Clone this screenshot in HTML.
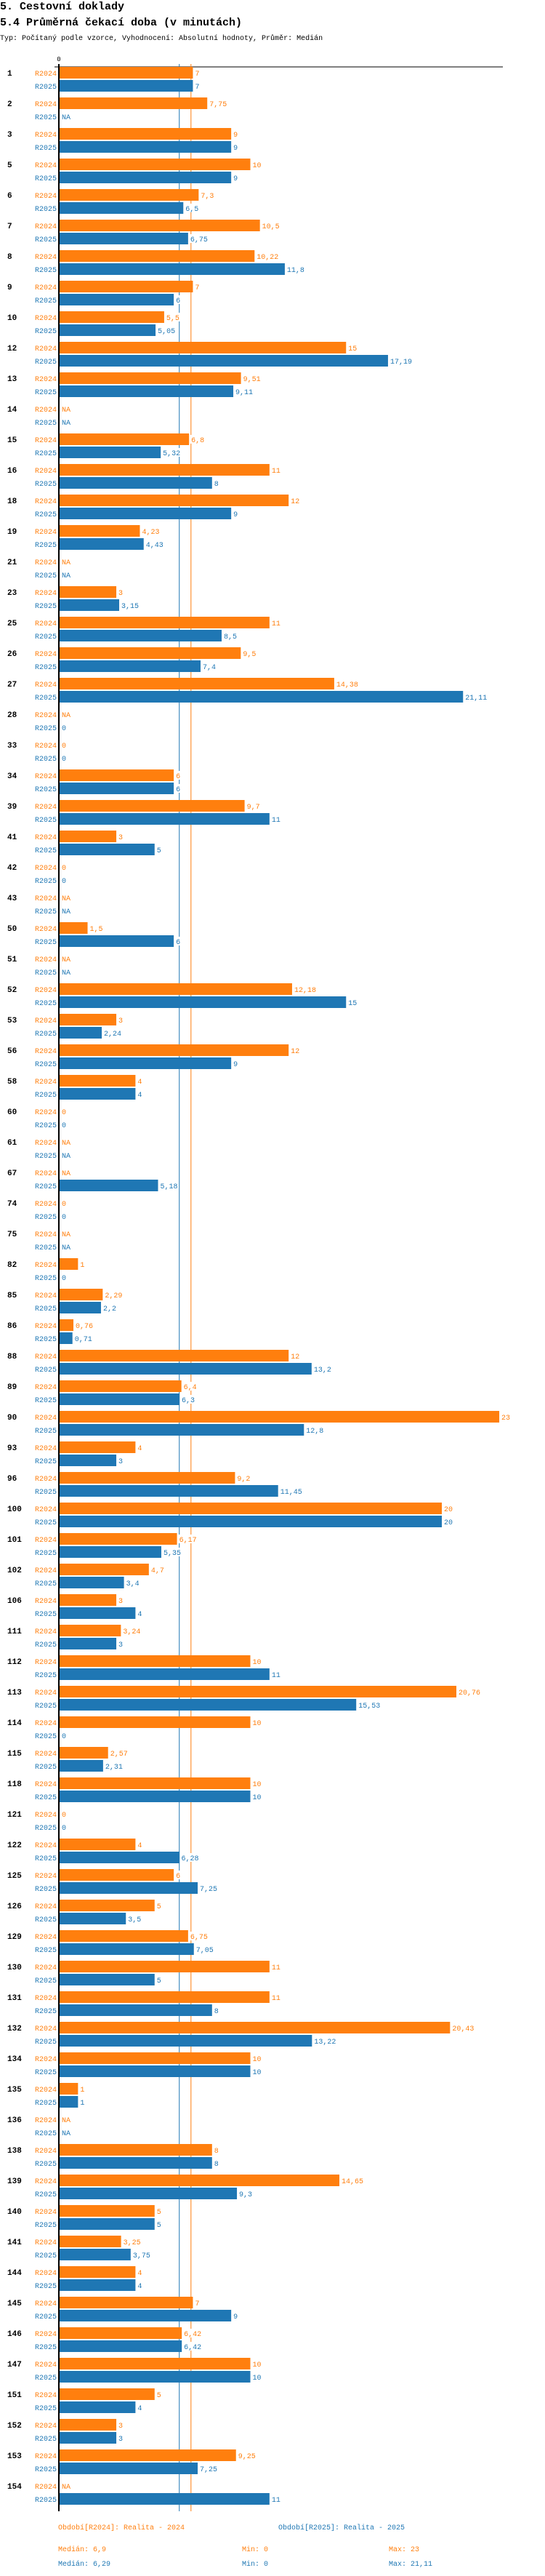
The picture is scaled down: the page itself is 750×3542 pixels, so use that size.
<!DOCTYPE html>
<html><head><meta charset="utf-8">
<style>
html,body{margin:0;padding:0;background:#fff;width:750px;height:3542px;overflow:hidden}
svg{display:block}
text{font-family:"Liberation Mono",monospace}
</style></head>
<body>
<svg id="chart" width="750" height="3542" xmlns="http://www.w3.org/2000/svg">
<text x="0" y="13" font-size="15" font-weight="bold" fill="#000">5. Cestovní doklady</text>
<text x="0" y="35" font-size="15" font-weight="bold" fill="#000">5.4 Průměrná čekací doba (v minutách)</text>
<text x="0" y="55" font-size="10" fill="#000">Typ: Počítaný podle vzorce, Vyhodnocení: Absolutní hodnoty, Průměr: Medián</text>
<g id="plot"></g>
<g font-size="10">
<text x="80" y="3478" fill="#ff7f0e">Období[R2024]: Realita - 2024</text>
<text x="383" y="3478" fill="#1f77b4">Období[R2025]: Realita - 2025</text>
<text x="80" y="3508" fill="#ff7f0e">Medián: 6,9</text>
<text x="333" y="3508" fill="#ff7f0e">Min: 0</text>
<text x="535" y="3508" fill="#ff7f0e">Max: 23</text>
<text x="80" y="3528" fill="#1f77b4">Medián: 6,29</text>
<text x="333" y="3528" fill="#1f77b4">Min: 0</text>
<text x="535" y="3528" fill="#1f77b4">Max: 21,11</text>
</g>
</svg>
<script>
const categories=[1,2,3,5,6,7,8,9,10,12,13,14,15,16,18,19,21,23,25,26,27,28,33,34,39,41,42,43,50,51,52,53,56,58,60,61,67,74,75,82,85,86,88,89,90,93,96,100,101,102,106,111,112,113,114,115,118,121,122,125,126,129,130,131,132,134,135,136,138,139,140,141,144,145,146,147,151,152,153,154];
const values2024=[7,7.75,9,10,7.3,10.5,10.22,7,5.5,15,9.51,null,6.8,11,12,4.23,null,3,11,9.5,14.38,null,0,6,9.7,3,0,null,1.5,null,12.18,3,12,4,0,null,null,0,null,1,2.29,0.76,12,6.4,23,4,9.2,20,6.17,4.7,3,3.24,10,20.76,10,2.57,10,0,4,6,5,6.75,11,11,20.43,10,1,null,8,14.65,5,3.25,4,7,6.42,10,5,3,9.25,null];
const values2025=[7,null,9,9,6.5,6.75,11.8,6,5.05,17.19,9.11,null,5.32,8,9,4.43,null,3.15,8.5,7.4,21.11,0,0,6,11,5,0,null,6,null,15,2.24,9,4,0,null,5.18,0,null,0,2.2,0.71,13.2,6.3,12.8,3,11.45,20,5.35,3.4,4,3,11,15.53,0,2.31,10,0,6.28,7.25,3.5,7.05,5,8,13.22,10,1,null,8,9.3,5,3.75,4,9,6.42,10,4,3,7.25,11];
const medians=[6.9,6.29];
const ORANGE="#ff7f0e",BLUE="#1f77b4";
const X0=81,SCALE=26.35,TOP=92,PITCH=42,BH=16;
const xs=v=>X0+v*SCALE;
const ns="http://www.w3.org/2000/svg";
const g=document.getElementById('plot');
function mk(tag,attrs){const e=document.createElementNS(ns,tag);for(const k in attrs)e.setAttribute(k,attrs[k]);g.appendChild(e);return e;}
const fmt=v=>v===null?"NA":String(v).replace('.',',');
const endY=TOP+PITCH*(categories.length-1)+43;
// top axis
let ax=mk('line',{x1:75,y1:TOP,x2:692,y2:TOP,stroke:"#000","stroke-width":1});


let zl=mk('text',{x:X0,y:84,"font-size":9,"text-anchor":"middle",fill:"#000"});zl.textContent="0";


// median lines
[[medians[1],BLUE],[medians[0],ORANGE]].forEach((m,i)=>{
  const l=mk('line',{x1:xs(m[0]),y1:88,x2:xs(m[0]),y2:endY,stroke:m[1],"stroke-width":1});
  
  
});
categories.forEach((c,i)=>{
  const y0=TOP+PITCH*i;
  const gl=mk('text',{x:10,y:y0+12,"font-size":11,"font-weight":"bold",fill:"#000"});gl.textContent=c;
  
  
  [[values2024[i],ORANGE,"R2024",0],[values2025[i],BLUE,"R2025",18]].forEach(s=>{
    const by=y0+s[3];
    const sl=mk('text',{x:78,y:by+12,"font-size":10,"text-anchor":"end",fill:s[1]});sl.textContent=s[2];
    
    
    const v=s[0];
    let ex=X0+1;
    if(v!==null&&v>0){
      const r=mk('rect',{x:X0,y:by,width:xs(v)-X0,height:BH,fill:s[1]});
      
      
      ex=xs(v);
    }
    const t=fmt(v);
    const bg=mk('rect',{x:ex+2,y:by+2,width:t.length*6+2,height:12,fill:"#fff"});
    
    
    const vl=mk('text',{x:ex+3,y:by+12,"font-size":10,fill:s[1]});vl.textContent=t;
    
    
  });
});
const va=mk('line',{x1:X0,y1:88,x2:X0,y2:endY,stroke:"#000","stroke-width":2});


</script>
</body></html>
